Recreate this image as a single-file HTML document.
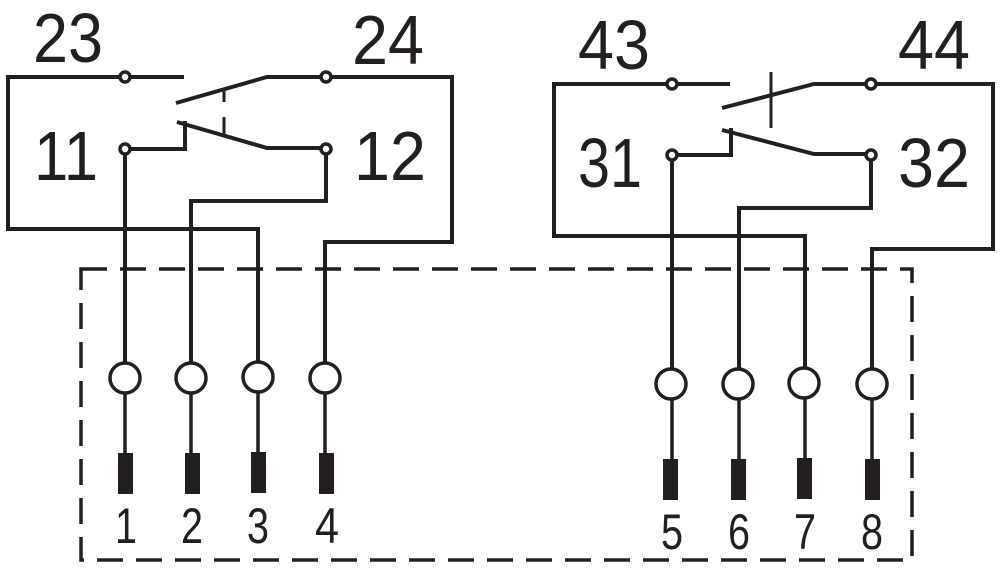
<!DOCTYPE html>
<html><head><style>html,body{margin:0;padding:0;background:#fff}svg{display:block}</style></head><body>
<svg width="1000" height="570" viewBox="0 0 1000 570" xmlns="http://www.w3.org/2000/svg">
<g fill="none" stroke="#231f20" stroke-width="4">
<polyline points="125,77 8,77 8,229 258,229 258,363"/>
<line x1="125" y1="77" x2="184" y2="77"/>
<polyline points="176,103 267,77 326,77 452,77 452,242 325,242 325,363"/>
<polyline points="125,149 185,149 185,121"/>
<polyline points="177,122 267,148 326,148 326,201 191,201 191,363"/>
<line x1="125" y1="149" x2="125" y2="363"/>
<line x1="224" y1="88" x2="224" y2="102" stroke-width="3"/>
<line x1="224" y1="117" x2="224" y2="135" stroke-width="3"/>
<polyline points="672,84 554,84 554,236 805,236 805,368"/>
<line x1="672" y1="84" x2="730" y2="84"/>
<polyline points="722,108 814,84 871,84 993,84 993,249 872,249 872,368"/>
<polyline points="672,155 731,155 731,128"/>
<polyline points="722,130 814,154 871,154 871,208 739,208 739,368"/>
<line x1="672" y1="155" x2="672" y2="368"/>
<line x1="771" y1="72" x2="771" y2="128" stroke-width="3"/>
</g>
<g fill="#fff" stroke="#231f20" stroke-width="3.5">
<circle cx="125" cy="77" r="5"/><circle cx="326" cy="77" r="5"/><circle cx="125" cy="149" r="5"/><circle cx="326" cy="149" r="5"/>
<circle cx="672" cy="84" r="5"/><circle cx="871" cy="84" r="5"/><circle cx="672" cy="155" r="5"/><circle cx="871" cy="155" r="5"/>
</g>
<rect x="81" y="269" width="831" height="291" fill="none" stroke="#231f20" stroke-width="3.5" stroke-dasharray="26,13"/>
<g stroke="#231f20" stroke-width="3.5">
<line x1="125" y1="363" x2="125" y2="460"/><line x1="191" y1="363" x2="191" y2="460"/><line x1="258" y1="363" x2="258" y2="460"/><line x1="325" y1="363" x2="325" y2="460"/>
<line x1="672" y1="368" x2="672" y2="465"/><line x1="739" y1="368" x2="739" y2="465"/><line x1="805" y1="368" x2="805" y2="465"/><line x1="872" y1="368" x2="872" y2="465"/>
</g>
<g fill="#fff" stroke="#231f20" stroke-width="3.5">
<circle cx="125" cy="378" r="15"/><circle cx="191" cy="378" r="15"/><circle cx="258" cy="377" r="15"/><circle cx="325" cy="378" r="15"/>
<circle cx="671" cy="384" r="15"/><circle cx="738" cy="384" r="15"/><circle cx="804" cy="383" r="15"/><circle cx="872" cy="384" r="15"/>
</g>
<g fill="#231f20">
<rect x="118" y="453" width="15" height="41"/><rect x="185" y="453" width="15" height="41"/><rect x="251" y="452" width="15" height="41"/><rect x="319" y="453" width="15" height="41"/>
<rect x="663" y="459" width="15" height="41"/><rect x="731" y="459" width="15" height="41"/><rect x="797" y="458" width="15" height="41"/><rect x="865" y="459" width="15" height="41"/>
</g>
<g font-family="Liberation Sans, sans-serif" fill="#231f20" font-size="70">
<text x="33" y="62" textLength="70" lengthAdjust="spacingAndGlyphs">23</text>
<text x="352" y="64" textLength="72" lengthAdjust="spacingAndGlyphs">24</text>
<text x="34" y="180" textLength="64" lengthAdjust="spacingAndGlyphs">11</text>
<text x="354" y="180" textLength="72" lengthAdjust="spacingAndGlyphs">12</text>
<text x="578" y="69" textLength="72" lengthAdjust="spacingAndGlyphs">43</text>
<text x="898" y="69" textLength="72" lengthAdjust="spacingAndGlyphs">44</text>
<text x="578" y="187" textLength="64" lengthAdjust="spacingAndGlyphs">31</text>
<text x="898" y="187" textLength="72" lengthAdjust="spacingAndGlyphs">32</text>
</g>
<g font-family="Liberation Sans, sans-serif" fill="#231f20" font-size="50" text-anchor="middle">
<text x="126" y="543" textLength="22" lengthAdjust="spacingAndGlyphs">1</text>
<text x="192" y="543" textLength="22" lengthAdjust="spacingAndGlyphs">2</text>
<text x="258" y="543" textLength="22" lengthAdjust="spacingAndGlyphs">3</text>
<text x="327" y="543" textLength="24" lengthAdjust="spacingAndGlyphs">4</text>
<text x="672" y="549" textLength="22" lengthAdjust="spacingAndGlyphs">5</text>
<text x="739" y="549" textLength="22" lengthAdjust="spacingAndGlyphs">6</text>
<text x="805" y="549" textLength="22" lengthAdjust="spacingAndGlyphs">7</text>
<text x="872" y="549" textLength="22" lengthAdjust="spacingAndGlyphs">8</text>
</g>
</svg>
</body></html>
